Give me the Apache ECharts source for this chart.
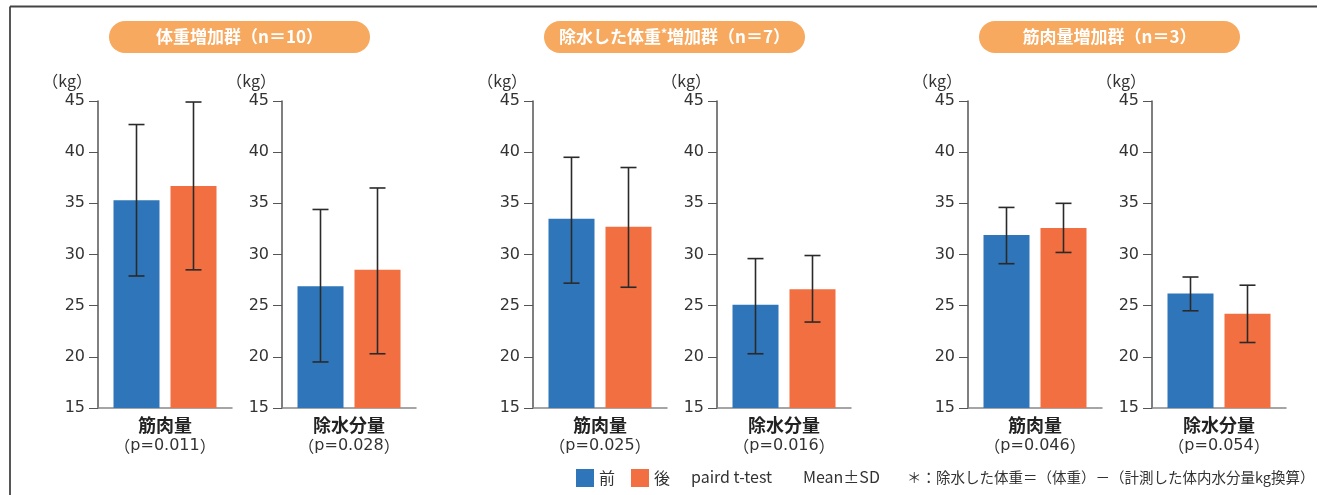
<!DOCTYPE html>
<html>
<head>
<meta charset="utf-8">
<script src="https://cdn.jsdelivr.net/npm/echarts@6/dist/echarts.min.js"></script>
<style>
  html, body { margin: 0; padding: 0; background: #fff; }
  #chart { width: 1324px; height: 495px; }
</style>
</head>
<body>
<div id="chart"></div>
<script>
// データ
const groupTitles = ['体重増加群（n＝10）', '除水した体重*増加群（n＝7）', '筋肉量増加群（n＝3）']
const panelCategories = ['筋肉量', '除水分量', '筋肉量', '除水分量', '筋肉量', '除水分量']
const pValues = ['0.011', '0.028', '0.025', '0.016', '0.046', '0.054']
const seriesNames = ['前', '後']
const beforeMean = [35.3, 26.9, 33.5, 25.1, 31.9, 26.2]
const afterMean = [36.7, 28.5, 32.7, 26.6, 32.6, 24.2]
const beforeLow = [27.9, 19.5, 27.2, 20.3, 29.1, 24.5]
const beforeHigh = [42.7, 34.4, 39.5, 29.6, 34.6, 27.8]
const afterLow = [28.5, 20.3, 26.8, 23.4, 30.2, 21.4]
const afterHigh = [44.9, 36.5, 38.5, 29.9, 35.0, 27.0]
const yMin = 15
const yMax = 45
const yInterval = 5

// レイアウト
const FONT = 'Noto Sans CJK JP'
const NUM_FONT = 'DejaVu Sans'
const BLUE = '#2e75b9'
const ORANGE = '#f26f41'
const PILL = '#f7a95f'
const BAR_W = 46
const BAR_GAP = 11
const panelLeft = [98, 282, 533, 717, 968, 1152]
const panelWidth = 134
const pillLeft = [109, 544, 979]
const pillWidth = 261

const chart = echarts.init(document.getElementById('chart'))

const grids = []
const xAxes = []
const yAxes = []
const series = []

panelLeft.forEach((left, i) => {
  grids.push({ left: left, top: 101, width: panelWidth, height: 307 })
  xAxes.push({
    type: 'category',
    gridIndex: i,
    data: [panelCategories[i]],
    axisLine: { lineStyle: { color: '#888', width: 1.5 } },
    axisTick: { show: false },
    axisLabel: {
      margin: 7,
      formatter: v => '{n|' + v + '}\n{q|（}{p|p=' + pValues[i] + '}{q|）}',
      rich: {
        n: { fontFamily: FONT, fontSize: 18, fontWeight: 'bold', color: '#222', lineHeight: 20 },
        q: { fontFamily: FONT, fontSize: 16, color: '#333', lineHeight: 21 },
        p: { fontFamily: NUM_FONT, fontSize: 16, color: '#333', lineHeight: 21 }
      }
    }
  })
  yAxes.push({
    type: 'value',
    gridIndex: i,
    min: yMin,
    max: yMax,
    interval: yInterval,
    name: '（kg）',
    nameLocation: 'end',
    nameGap: 12,
    nameTextStyle: { fontFamily: FONT, fontSize: 16, color: '#333', align: 'right', padding: [0, 6, 0, 0] },
    axisLine: { show: true, lineStyle: { color: '#555', width: 1.5 } },
    axisTick: { show: true, length: 9, lineStyle: { color: '#555' } },
    splitLine: { show: false },
    axisLabel: { fontFamily: NUM_FONT, fontSize: 16, color: '#333', margin: 13 }
  })

  const means = [beforeMean[i], afterMean[i]]
  const lows = [beforeLow[i], afterLow[i]]
  const highs = [beforeHigh[i], afterHigh[i]]
  const colors = [BLUE, ORANGE]

  seriesNames.forEach((name, k) => {
    series.push({
      name: name,
      type: 'bar',
      xAxisIndex: i,
      yAxisIndex: i,
      barWidth: BAR_W,
      barGap: (BAR_GAP / BAR_W * 100) + '%',
      itemStyle: { color: colors[k] },
      data: [means[k]]
    })
  })

  // エラーバー（Mean±SD）
  seriesNames.forEach((name, k) => {
    const offset = (k === 0 ? -1 : 1) * (BAR_W + BAR_GAP) / 2
    series.push({
      type: 'custom',
      xAxisIndex: i,
      yAxisIndex: i,
      z: 10,
      silent: true,
      data: [[0, lows[k], highs[k]]],
      renderItem: (params, api) => {
        const lo = api.coord([api.value(0), api.value(1)])
        const hi = api.coord([api.value(0), api.value(2)])
        const cx = lo[0] + offset
        const style = { stroke: '#2a2a2a', lineWidth: 1.6 }
        return {
          type: 'group',
          children: [
            { type: 'line', shape: { x1: cx, y1: lo[1], x2: cx, y2: hi[1] }, style: style },
            { type: 'line', shape: { x1: cx - 8, y1: lo[1], x2: cx + 8, y2: lo[1] }, style: style },
            { type: 'line', shape: { x1: cx - 8, y1: hi[1], x2: cx + 8, y2: hi[1] }, style: style }
          ]
        }
      }
    })
  })
})

const graphics = [
  { type: 'line', shape: { x1: 10, y1: 6.5, x2: 1317, y2: 6.5 }, style: { stroke: '#444', lineWidth: 1.8 } },
  { type: 'line', shape: { x1: 10, y1: 6.5, x2: 10, y2: 495 }, style: { stroke: '#444', lineWidth: 1.8 } }
]

groupTitles.forEach((title, g) => {
  graphics.push({
    type: 'rect',
    shape: { x: pillLeft[g], y: 21, width: pillWidth, height: 32, r: 16 },
    style: { fill: PILL }
  })
  const parts = title.split('*')
  const text = parts.length > 1
    ? '{a|' + parts[0] + '}{s|*}{a|' + parts[1] + '}'
    : '{a|' + title + '}'
  graphics.push({
    type: 'text',
    x: pillLeft[g] + pillWidth / 2,
    y: 37,
    style: {
      text: text,
      align: 'center',
      verticalAlign: 'middle',
      rich: {
        a: { fontFamily: FONT, fontSize: 17, fontWeight: 'bold', fill: '#fff' },
        s: { fontFamily: FONT, fontSize: 12, fontWeight: 'bold', fill: '#fff', padding: [0, 0, 8, 0] }
      }
    }
  })
})

const notes = [
  { x: 691, text: 'paird t-test', size: 16 },
  { x: 803, text: 'Mean±SD', size: 16 },
  { x: 907, text: '＊：除水した体重＝（体重）－（計測した体内水分量kg換算）', size: 14.5 }
]
notes.forEach(n => {
  graphics.push({
    type: 'text',
    x: n.x,
    y: 477,
    style: { text: n.text, fontFamily: FONT, fontSize: n.size, fill: '#333', verticalAlign: 'middle' }
  })
})

chart.setOption({
  animation: false,
  backgroundColor: '#fff',
  legend: {
    data: seriesNames,
    left: 576,
    top: 469,
    padding: 0,
    icon: 'rect',
    itemWidth: 18,
    itemHeight: 18,
    itemGap: 16,
    selectedMode: false,
    textStyle: { fontFamily: FONT, fontSize: 16, color: '#333' }
  },
  grid: grids,
  xAxis: xAxes,
  yAxis: yAxes,
  series: series,
  graphic: graphics
})
</script>
</body>
</html>
